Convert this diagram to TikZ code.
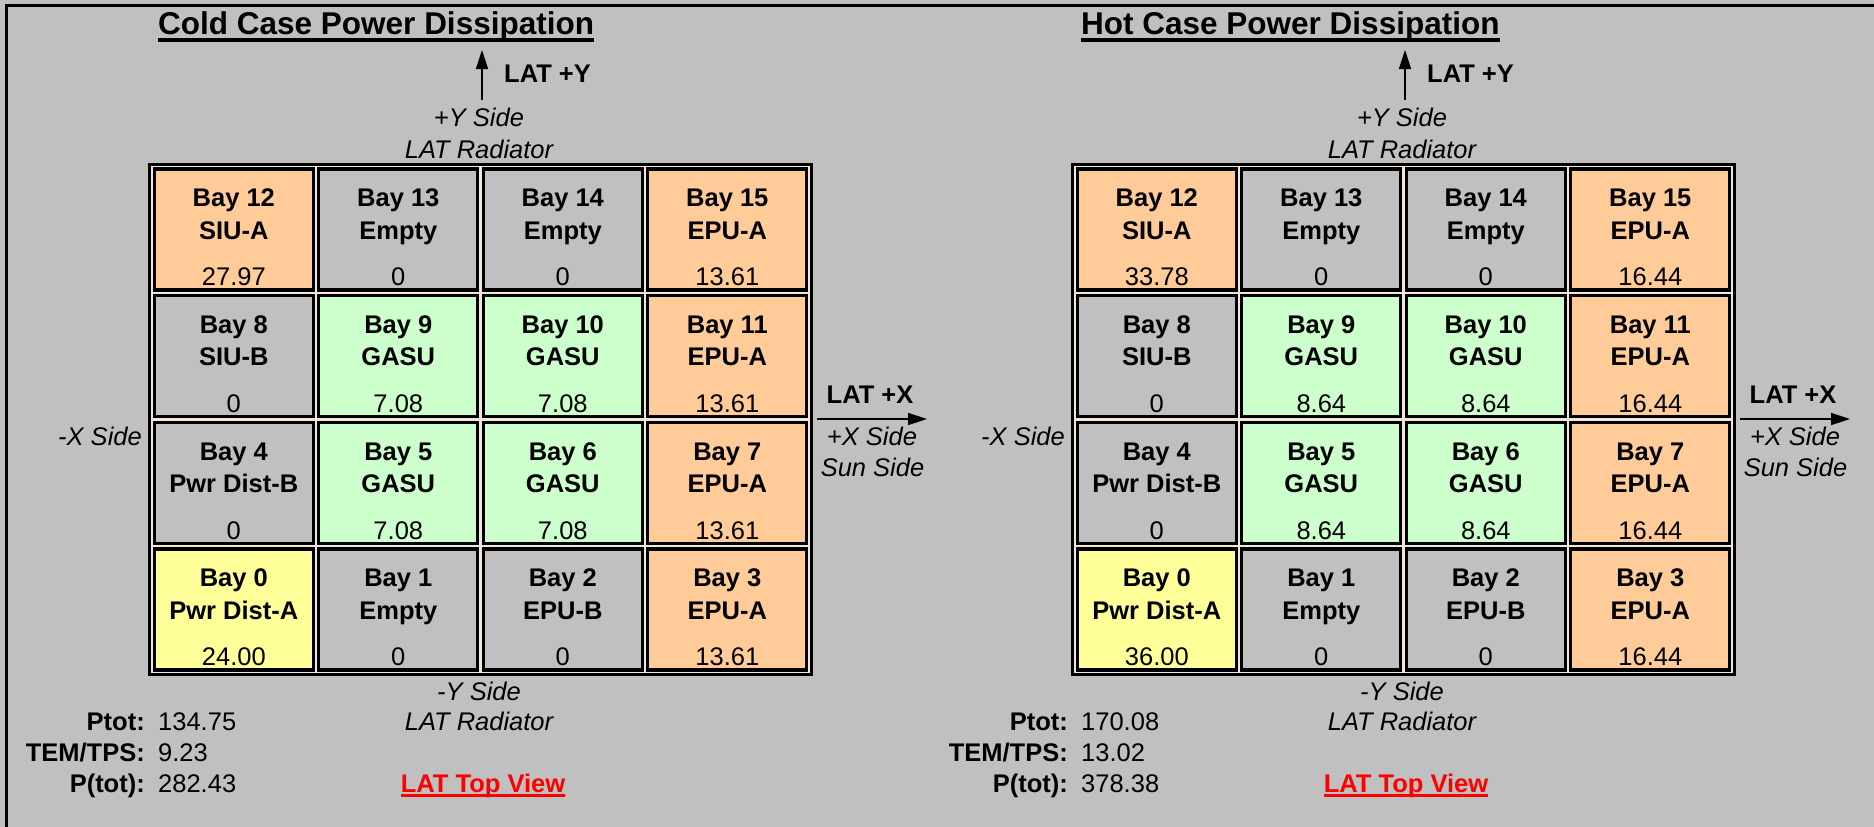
\documentclass[tikz,border=0pt]{standalone}
\usepackage{fontspec}
\setmainfont{Liberation Sans}
\usetikzlibrary{arrows.meta, positioning, fit, backgrounds}

\definecolor{panelgray}{HTML}{C0C0C0}
\definecolor{baypeach}{HTML}{FFCC99}
\definecolor{baygreen}{HTML}{CCFFCC}
\definecolor{bayyellow}{HTML}{FFFF99}
\definecolor{baygap}{HTML}{F2E6DA}
\definecolor{linkred}{HTML}{FF0000}

\newcommand{\txtsize}{\fontsize{25.5pt}{30pt}\selectfont}
\newcommand{\ttlsize}{\fontsize{31.5pt}{36pt}\selectfont}

\newcommand{\bay}[6]{%
  \node[baycell, fill = #3, #2] (#1) {};
  \node[baylbl] (#1n) at ([yshift = 22.7pt]#1.center) {Bay #4};
  \node[baylbl] (#1u) at ([yshift = -9.6pt]#1.center) {#5};
  \node[bayval] (#1v) at ([yshift = -56.3pt]#1.center) {#6};
}

\begin{document}
\begin{tikzpicture}[
        x = 1pt, y = -1pt,
        node distance = 126.7pt and 164.5pt,
        on grid,
        >= {Triangle[length = 19pt, width = 12pt]},
        baycell/.style = {draw, line width = 3.3pt, minimum width = 159pt, minimum height = 121pt,
                          inner sep = 0pt, outer sep = 0pt},
        baylbl/.style = {anchor = base, inner sep = 0pt, font = \txtsize\bfseries},
        bayval/.style = {anchor = base, inner sep = 0pt, font = \txtsize},
        sidelbl/.style = {anchor = base, inner sep = 0pt, font = \txtsize\itshape},
        gridframe/.style = {draw, fill = baygap, line width = 2.7pt, inner sep = 4.6pt},
        ttl/.style = {anchor = base west, inner sep = 0pt, font = \ttlsize\bfseries},
        ttlline/.style = {line width = 3.3pt},
        linklbl/.style = {anchor = base, inner sep = 0pt, font = \txtsize\bfseries, text = linkred},
        linkline/.style = {draw = linkred, line width = 3pt},
        axisarrow/.style = {->, line width = 1.5pt},
        frameline/.style = {line width = 3.4pt}
    ]

    \useasboundingbox (0,0) rectangle (1874,827);
    \draw[frameline] (6.3,827) -- (6.3,5.6) -- (1874,5.6);

    % cold case
    \node[ttl] (coldttl) at (158, 34.7) {Cold Case Power Dissipation};
    \draw[ttlline] ([yshift = -5.3pt]coldttl.base west) -- ([yshift = -5.3pt]coldttl.base east);

    \coordinate (coldy0) at (482, 100);
    \coordinate (coldy1) at (482, 50);
    \draw[axisarrow] (coldy0) -- (coldy1);
    \node[baylbl, anchor = base west] (coldlaty) at (504, 82) {LAT +Y};
    \node[sidelbl] (coldys) at (479, 126.6) {+Y Side};
    \node[sidelbl] (coldyr) at (479, 158) {LAT Radiator};

    \bay{cb12}{at = {(233.8, 229.5)}}{baypeach}{12}{SIU-A}{27.97}
    \bay{cb13}{right = of cb12}{panelgray}{13}{Empty}{0}
    \bay{cb14}{right = of cb13}{panelgray}{14}{Empty}{0}
    \bay{cb15}{right = of cb14}{baypeach}{15}{EPU-A}{13.61}
    \bay{cb8}{below = of cb12}{panelgray}{8}{SIU-B}{0}
    \bay{cb9}{right = of cb8}{baygreen}{9}{GASU}{7.08}
    \bay{cb10}{right = of cb9}{baygreen}{10}{GASU}{7.08}
    \bay{cb11}{right = of cb10}{baypeach}{11}{EPU-A}{13.61}
    \bay{cb4}{below = of cb8}{panelgray}{4}{Pwr Dist-B}{0}
    \bay{cb5}{right = of cb4}{baygreen}{5}{GASU}{7.08}
    \bay{cb6}{right = of cb5}{baygreen}{6}{GASU}{7.08}
    \bay{cb7}{right = of cb6}{baypeach}{7}{EPU-A}{13.61}
    \bay{cb0}{below = of cb4}{bayyellow}{0}{Pwr Dist-A}{24.00}
    \bay{cb1}{right = of cb0}{panelgray}{1}{Empty}{0}
    \bay{cb2}{right = of cb1}{panelgray}{2}{EPU-B}{0}
    \bay{cb3}{right = of cb2}{baypeach}{3}{EPU-A}{13.61}

    \node[sidelbl, anchor = base east] (coldxm) at (142, 445) {-X Side};
    \node[baylbl] (coldlatx) at (870, 403) {LAT +X};
    \coordinate (coldx0) at (817, 419);
    \coordinate (coldx1) at (927, 419);
    \draw[axisarrow] (coldx0) -- (coldx1);
    \node[sidelbl] (coldxs) at (872, 445) {+X Side};
    \node[sidelbl] (coldsun) at (872.5, 476) {Sun Side};

    \node[sidelbl] (coldyms) at (479, 700) {-Y Side};
    \node[sidelbl] (coldymr) at (479, 730) {LAT Radiator};

    \node[baylbl, anchor = base east] (coldptk) at (145, 730) {Ptot:};
    \node[bayval, anchor = base west] (coldptv) at (158, 730) {134.75};
    \node[baylbl, anchor = base east] (coldtemk) at (145, 761) {TEM/TPS:};
    \node[bayval, anchor = base west] (coldtemv) at (158, 761) {9.23};
    \node[baylbl, anchor = base east] (coldtotk) at (145, 792) {P(tot):};
    \node[bayval, anchor = base west] (coldtotv) at (158, 792) {282.43};
    \node[linklbl] (coldview) at (483, 792) {LAT Top View};
    \draw[linkline] ([yshift = -3pt]coldview.base west) -- ([yshift = -3pt]coldview.base east);

    % hot case
    \node[ttl] (hotttl) at (1081, 34.7) {Hot Case Power Dissipation};
    \draw[ttlline] ([yshift = -5.3pt]hotttl.base west) -- ([yshift = -5.3pt]hotttl.base east);

    \coordinate (hoty0) at (1405, 100);
    \coordinate (hoty1) at (1405, 50);
    \draw[axisarrow] (hoty0) -- (hoty1);
    \node[baylbl, anchor = base west] (hotlaty) at (1427, 82) {LAT +Y};
    \node[sidelbl] (hotys) at (1402, 126.6) {+Y Side};
    \node[sidelbl] (hotyr) at (1402, 158) {LAT Radiator};

    \bay{hb12}{at = {(1156.8, 229.5)}}{baypeach}{12}{SIU-A}{33.78}
    \bay{hb13}{right = of hb12}{panelgray}{13}{Empty}{0}
    \bay{hb14}{right = of hb13}{panelgray}{14}{Empty}{0}
    \bay{hb15}{right = of hb14}{baypeach}{15}{EPU-A}{16.44}
    \bay{hb8}{below = of hb12}{panelgray}{8}{SIU-B}{0}
    \bay{hb9}{right = of hb8}{baygreen}{9}{GASU}{8.64}
    \bay{hb10}{right = of hb9}{baygreen}{10}{GASU}{8.64}
    \bay{hb11}{right = of hb10}{baypeach}{11}{EPU-A}{16.44}
    \bay{hb4}{below = of hb8}{panelgray}{4}{Pwr Dist-B}{0}
    \bay{hb5}{right = of hb4}{baygreen}{5}{GASU}{8.64}
    \bay{hb6}{right = of hb5}{baygreen}{6}{GASU}{8.64}
    \bay{hb7}{right = of hb6}{baypeach}{7}{EPU-A}{16.44}
    \bay{hb0}{below = of hb4}{bayyellow}{0}{Pwr Dist-A}{36.00}
    \bay{hb1}{right = of hb0}{panelgray}{1}{Empty}{0}
    \bay{hb2}{right = of hb1}{panelgray}{2}{EPU-B}{0}
    \bay{hb3}{right = of hb2}{baypeach}{3}{EPU-A}{16.44}

    \node[sidelbl, anchor = base east] (hotxm) at (1065, 445) {-X Side};
    \node[baylbl] (hotlatx) at (1793, 403) {LAT +X};
    \coordinate (hotx0) at (1740, 419);
    \coordinate (hotx1) at (1850, 419);
    \draw[axisarrow] (hotx0) -- (hotx1);
    \node[sidelbl] (hotxs) at (1795, 445) {+X Side};
    \node[sidelbl] (hotsun) at (1795.5, 476) {Sun Side};

    \node[sidelbl] (hotyms) at (1402, 700) {-Y Side};
    \node[sidelbl] (hotymr) at (1402, 730) {LAT Radiator};

    \node[baylbl, anchor = base east] (hotptk) at (1068, 730) {Ptot:};
    \node[bayval, anchor = base west] (hotptv) at (1081, 730) {170.08};
    \node[baylbl, anchor = base east] (hottemk) at (1068, 761) {TEM/TPS:};
    \node[bayval, anchor = base west] (hottemv) at (1081, 761) {13.02};
    \node[baylbl, anchor = base east] (hottotk) at (1068, 792) {P(tot):};
    \node[bayval, anchor = base west] (hottotv) at (1081, 792) {378.38};
    \node[linklbl] (hotview) at (1406, 792) {LAT Top View};
    \draw[linkline] ([yshift = -3pt]hotview.base west) -- ([yshift = -3pt]hotview.base east);

    \begin{scope}[on background layer]
        \fill[panelgray] (0,0) rectangle (1874,827);
        \node[gridframe, fit = (cb12) (cb3)] (coldgrid) {};
        \node[gridframe, fit = (hb12) (hb3)] (hotgrid) {};
    \end{scope}

\end{tikzpicture}
\end{document}
